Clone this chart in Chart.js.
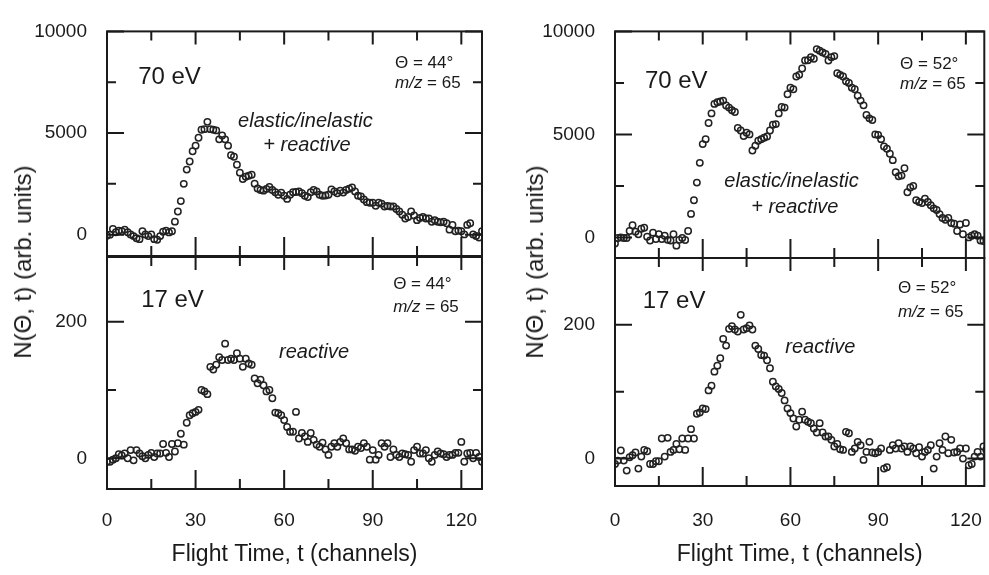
<!DOCTYPE HTML><html>
<head>
  <meta charset="utf-8">
  <script src="https://cdn.jsdelivr.net/npm/chart.js"></script>
  <style>
    html, body { margin: 0; padding: 0; background: #fff; }
    #wrap {
      position: relative;
      width: 989px;
      height: 575px;
      overflow: hidden;
      font-family: 'Liberation Sans', Arial, sans-serif;
      color: #1a1a1a;
    }
    #wrap canvas { position: absolute; left: 0; top: 0; }
    .ylab {
      position: absolute;
      font-size: 24px;
      line-height: 1;
      white-space: nowrap;
      transform: translate(-50%, -50%) rotate(-90deg);
    }
  </style>
</head>
<body>
<div id="wrap">
  <canvas id="tl" width="989" height="575"></canvas>
  <canvas id="bl" width="989" height="575"></canvas>
  <canvas id="tr" width="989" height="575"></canvas>
  <canvas id="br" width="989" height="575"></canvas>
  <div class="ylab" style="left:23px; top:262px;">N(&Theta;, t) (arb. units)</div>
  <div class="ylab" style="left:535px; top:262px;">N(&Theta;, t) (arb. units)</div>
</div>
<script>
  // tick positions and the ones that carry a label
  const xTicks = [0, 15, 30, 45, 60, 75, 90, 105, 120];
  const xTickLabels = [0, 30, 60, 90, 120];
  const yTicksTop = [0, 2500, 5000, 7500, 10000];
  const yTickLabelsTop = [0, 5000, 10000];
  const yTicksBottom = [0, 100, 200];
  const yTickLabelsBottom = [0, 200];

  // counts per flight-time channel (0..127)
  // 70 eV, theta = 44 deg
  const counts70eV44 = [
    -50, 0, 280, 120, 200, 170, 250, 120, 10, -70,
    -180, -220, 170, 10, -70, 10, -220, -250, -70, 140,
    200, 110, 170, 640, 1140, 1650, 2500, 3200, 3600, 4100,
    4380, 4770, 5160, 5190, 5550, 5190, 5160, 5130, 4690, 4880,
    4690, 4380, 3910, 3830, 3440, 3050, 2740, 2850, 2900, 2950,
    2510, 2270, 2200, 2165, 2250, 2350, 2200, 2090, 1960, 2070,
    1915, 1760, 1960, 2090, 2100, 2120, 2040, 1915, 1850, 2090,
    2200, 2120, 1960, 1915, 1930, 1960, 2230, 2120, 2040, 2165,
    2070, 2200, 2260, 2320, 2120, 1920, 1880, 1730, 1600, 1570,
    1570, 1420, 1570, 1525, 1385, 1416, 1385, 1385, 1260, 1136,
    980, 792, 870, 1136, 948, 714, 823, 870, 792, 792,
    636, 714, 636, 605, 636, 558, 246, 480, 168, 200,
    168, 12, 480, 558, 12, -66, -144, 168
  ];
  // 17 eV, theta = 44 deg
  const counts17eV44 = [
    -5, -5, -2, 0, 6, 4, 7, 0, 12, -3,
    12, 7, 3, 0, 5, 8, 2, 7, 7, 21,
    8, 2, 21, 10, 22, 36, 20, 52, 63, 66,
    68, 71, 100, 98, 94, 134, 130, 137, 148, 144,
    168, 144, 146, 144, 154, 146, 134, 146, 139, 137,
    117, 110, 115, 107, 98, 100, 88, 67, 66, 63,
    56, 46, 39, 39, 68, 29, 37, 32, 24, 37,
    27, 20, 17, 23, 13, 5, 17, 22, 17, 24,
    29, 22, 13, 13, 11, 17, 15, 22, 17, -2,
    12, -2, 5, 22, 17, 22, 2, 13, 5, 2,
    7, 6, 5, -5, 12, 17, 7, 7, 12, 0,
    -5, 5, 10, 7, 6, 2, 5, 5, 8, 8,
    24, -5, 7, 8, 0, 8, 2, -5
  ];
  // 70 eV, theta = 52 deg
  const counts70eV52 = [
    -300, -30, 0, -30, -30, 310, 590, 280, 150, 420,
    470, 30, -150, 230, -80, 150, -80, 80, -120, -150,
    150, -400, -120, -30, -125, 310, 1140, 1800, 2660, 3620,
    4530, 4770, 5550, 6020, 6480, 6560, 6600, 6640, 6400, 6300,
    6170, 6090, 5310, 5190, 4920, 5080, 5000, 4220, 4450, 4690,
    4770, 4840, 4900, 5190, 5470, 5500, 6020, 6330, 6300, 6950,
    7270, 7190, 7810, 7890, 8200, 8590, 8600, 8750, 8670, 9140,
    9060, 8980, 8910, 8590, 8750, 8800, 7970, 7890, 7810, 7580,
    7500, 7270, 7190, 6880, 6640, 6410, 5940, 5780, 5700, 5000,
    4970, 4770, 4410, 4300, 4060, 3750, 3160, 2970, 3000, 3360,
    2190, 2420, 2500, 1800, 1720, 1670, 1880, 1720, 1560, 1410,
    1330, 1130, 940, 860, 940, 700, 660, 310, 625, 150,
    700, 0, 80, 150, 80, -150, -180, -100
  ];
  // 17 eV, theta = 52 deg
  const counts17eV52 = [
    -8, -3, 12, -3, -18, 2, 5, 9, -15, 3,
    13, 11, -8, -8, -4, -4, 30, 3, 31, 10,
    13, 22, 14, 30, 13, 30, 44, 30, 67, 69,
    75, 74, 102, 109, 130, 139, 150, 179, 169, 194,
    198, 193, 190, 215, 193, 195, 199, 193, 169, 164,
    155, 154, 147, 135, 115, 108, 104, 98, 87, 75,
    68, 60, 48, 58, 70, 58, 55, 53, 45, 39,
    53, 39, 33, 33, 28, 18, 22, 14, 13, 40,
    38, 10, 15, 25, 20, -2, 10, 25, 9, 8,
    10, 15, -15, -13, 13, 20, 15, 23, 15, 18,
    10, 18, 15, 8, 17, 3, 10, 13, 20, -15,
    3, 23, 13, 33, 8, 28, 9, 10, 15, 0,
    15, -10, -8, 3, 10, 3, 18, 13
  ];

  const FONT = "'Liberation Sans', Arial, sans-serif";
  const INK = '#1a1a1a';
  const W = 989, H = 575;

  Chart.defaults.font.family = FONT;
  Chart.defaults.color = INK;

  // frame, inward ticks on all four sides, and the text notes
  const frameTicks = {
    id: 'frameTicks',
    afterDatasetsDraw(chart, args, opts) {
      const { ctx, chartArea: a, scales: { x, y } } = chart;
      ctx.save();
      ctx.strokeStyle = INK;
      ctx.lineWidth = 2;
      ctx.beginPath();
      x.ticks.forEach(t => {
        const px = x.getPixelForValue(t.value);
        const major = xTickLabels.includes(t.value);
        ctx.moveTo(px, a.top);
        ctx.lineTo(px, a.top + (major ? 13 : 9));
        ctx.moveTo(px, a.bottom);
        ctx.lineTo(px, a.bottom - (major ? 19 : 10));
      });
      y.ticks.forEach(t => {
        const py = y.getPixelForValue(t.value);
        const len = opts.yMajor.includes(t.value) ? 17 : 9;
        ctx.moveTo(a.left, py);
        ctx.lineTo(a.left + len, py);
        ctx.moveTo(a.right, py);
        ctx.lineTo(a.right - len, py);
      });
      ctx.stroke();
      ctx.strokeRect(a.left, a.top, a.right - a.left, a.bottom - a.top);

      ctx.fillStyle = INK;
      ctx.textBaseline = 'alphabetic';
      ctx.textAlign = 'left';
      (opts.notes || []).forEach(n => {
        const px = a.left + n.fx * (a.right - a.left);
        const py = a.top + n.fy * (a.bottom - a.top);
        let w = 0;
        const parts = n.runs.map(([text, style]) => {
          const font = `${style || 'normal'} ${n.size}px ${FONT}`;
          ctx.font = font;
          const pw = ctx.measureText(text).width;
          w += pw;
          return { text, font, pw };
        });
        let cx = n.align === 'center' ? px - w / 2 : px;
        parts.forEach(p => {
          ctx.font = p.font;
          ctx.fillText(p.text, cx, py);
          cx += p.pw;
        });
      });
      ctx.restore();
    }
  };

  function makePanel(id, values, cfg) {
    const [left, top, right, bottom] = cfg.area;
    return new Chart(document.getElementById(id), {
      type: 'scatter',
      data: {
        datasets: [{
          data: values.map((v, i) => ({ x: i, y: v })),
          pointStyle: 'circle',
          pointRadius: 3.2,
          pointHoverRadius: 3.2,
          pointBorderWidth: 1.5,
          pointBorderColor: '#222',
          pointBackgroundColor: 'rgba(0,0,0,0)'
        }]
      },
      options: {
        responsive: false,
        animation: false,
        devicePixelRatio: 1,
        events: [],
        layout: {
          padding: { left: 0, top: top, right: W - right, bottom: cfg.showX ? 0 : H - bottom }
        },
        plugins: {
          legend: { display: false },
          tooltip: { enabled: false },
          frameTicks: { yMajor: cfg.yLabels, notes: cfg.notes }
        },
        scales: {
          x: {
            type: 'linear',
            min: 0,
            max: cfg.xMax,
            afterBuildTicks: s => { s.ticks = xTicks.map(value => ({ value })); },
            // fixed height; no side padding so the plot area keeps its place
            afterFit: s => {
              s.height = cfg.showX ? H - bottom : 0;
              s.paddingLeft = 0;
              s.paddingRight = 0;
            },
            grid: { display: false, drawTicks: false },
            border: { display: false },
            ticks: {
              display: cfg.showX,
              autoSkip: false,
              maxRotation: 0,
              padding: cfg.xPad,
              color: INK,
              font: { size: 19 },
              callback: v => xTickLabels.includes(v) ? String(v) : ''
            },
            title: {
              display: cfg.showX,
              text: 'Flight Time, t (channels)',
              color: INK,
              font: { size: 23 },
              padding: { top: 0, bottom: 7 }
            }
          },
          y: {
            type: 'linear',
            min: cfg.yMin,
            max: cfg.yMax,
            afterBuildTicks: s => { s.ticks = cfg.yTicks.map(value => ({ value })); },
            afterFit: s => { s.width = left; },
            grid: { display: false, drawTicks: false },
            border: { display: false },
            ticks: {
              autoSkip: false,
              padding: 20,
              color: INK,
              font: { size: 19 },
              callback: v => cfg.yLabels.includes(v) ? String(v) : ''
            }
          }
        }
      },
      plugins: [frameTicks]
    });
  }

  makePanel('tl', counts70eV44, {
    area: [107, 20, 482, 256], xMax: 127, showX: false, xPad: 0,
    yMin: -1050, yMax: 10000, yTicks: yTicksTop, yLabels: yTickLabelsTop,
    notes: [
      { fx: 0.083, fy: 0.233, size: 24, runs: [['70 eV']] },
      { fx: 0.768, fy: 0.161, size: 17, runs: [['\u0398 = 44\u00b0']] },
      { fx: 0.768, fy: 0.254, size: 17, runs: [['m/z', 'italic'], [' = 65']] },
      { fx: 0.529, fy: 0.424, size: 20, align: 'center', runs: [['elastic/inelastic', 'italic']] },
      { fx: 0.533, fy: 0.534, size: 20, align: 'center', runs: [['+ reactive', 'italic']] }
    ]
  });

  makePanel('bl', counts17eV44, {
    area: [107, 257, 482, 489], xMax: 127, showX: true, xPad: 20,
    yMin: -45, yMax: 295, yTicks: yTicksBottom, yLabels: yTickLabelsBottom,
    notes: [
      { fx: 0.091, fy: 0.216, size: 24, runs: [['17 eV']] },
      { fx: 0.763, fy: 0.138, size: 17, runs: [['\u0398 = 44\u00b0']] },
      { fx: 0.763, fy: 0.237, size: 17, runs: [['m/z', 'italic'], [' = 65']] },
      { fx: 0.552, fy: 0.435, size: 20, align: 'center', runs: [['reactive', 'italic']] }
    ]
  });

  makePanel('tr', counts70eV52, {
    area: [615, 23, 987, 258], xMax: 126.3, showX: false, xPad: 0,
    yMin: -1000, yMax: 10000, yTicks: yTicksTop, yLabels: yTickLabelsTop,
    notes: [
      { fx: 0.081, fy: 0.251, size: 24, runs: [['70 eV']] },
      { fx: 0.772, fy: 0.166, size: 17, runs: [['\u0398 = 52\u00b0']] },
      { fx: 0.772, fy: 0.255, size: 17, runs: [['m/z', 'italic'], [' = 65']] },
      { fx: 0.478, fy: 0.685, size: 20, align: 'center', runs: [['elastic/inelastic', 'italic']] },
      { fx: 0.487, fy: 0.800, size: 20, align: 'center', runs: [['+ reactive', 'italic']] }
    ]
  });

  makePanel('br', counts17eV52, {
    area: [615, 258, 987, 486], xMax: 126.3, showX: true, xPad: 23,
    yMin: -41, yMax: 300, yTicks: yTicksBottom, yLabels: yTickLabelsBottom,
    notes: [
      { fx: 0.075, fy: 0.219, size: 24, runs: [['17 eV']] },
      { fx: 0.766, fy: 0.154, size: 17, runs: [['\u0398 = 52\u00b0']] },
      { fx: 0.766, fy: 0.259, size: 17, runs: [['m/z', 'italic'], [' = 65']] },
      { fx: 0.556, fy: 0.417, size: 20, align: 'center', runs: [['reactive', 'italic']] }
    ]
  });
</script>
</body>
</html>
